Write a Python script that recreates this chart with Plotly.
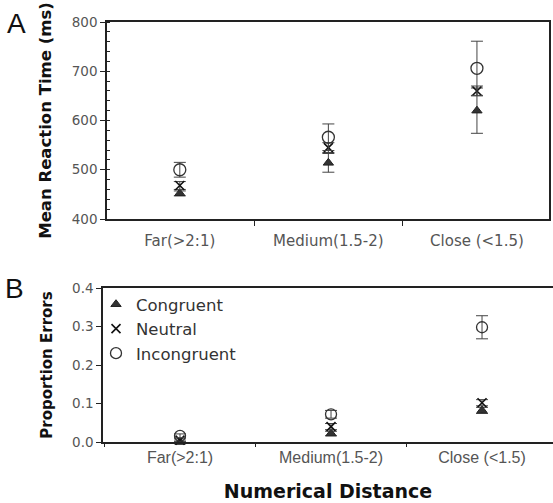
import plotly.graph_objects as go

categories = ["Far(>2:1)", "Medium(1.5-2)", "Close (<1.5)"]

# Panel A: mean reaction time (ms)
rt_congruent = [452, 514, 620]
rt_congruent_err = [5, 19, 46]
rt_neutral = [468, 545, 660]
rt_neutral_err = [8, 10, 10]
rt_incongruent = [500, 566, 706]
rt_incongruent_err = [15, 27, 55]

# Panel B: proportion errors
pe_congruent = [0.0, 0.022, 0.082]
pe_congruent_err = [0.002, 0.006, 0.008]
pe_neutral = [0.005, 0.040, 0.102]
pe_neutral_err = [0.003, 0.008, 0.008]
pe_incongruent = [0.016, 0.072, 0.298]
pe_incongruent_err = [0.005, 0.010, 0.030]

W, H = 553, 503
def px_x(a, b):
    return [a / W, b / W]
def px_y(top, bottom):
    return [1 - bottom / H, 1 - top / H]

ink = "#222222"
grey = "#555555"

marker_tri = dict(symbol="triangle-up", size=9, color="#333333", line=dict(color="#222", width=1))
marker_x = dict(symbol="x-thin-open", size=9, color="#111111", line=dict(color="#111", width=1.6))
marker_o = dict(symbol="circle-open", size=12, color="#333333", line=dict(color="#333", width=1.3))

def err(vals):
    return dict(type="data", array=vals, visible=True, color="#444444", thickness=1, width=6)

fig = go.Figure()

# Panel A
for name, ys, es, mk in [
    ("Congruent", rt_congruent, rt_congruent_err, marker_tri),
    ("Neutral", rt_neutral, rt_neutral_err, marker_x),
    ("Incongruent", rt_incongruent, rt_incongruent_err, marker_o),
]:
    fig.add_trace(go.Scatter(x=categories, y=ys, mode="markers", name=name,
                             marker=mk, error_y=err(es), xaxis="x", yaxis="y",
                             showlegend=False, cliponaxis=False))

# Panel B
mk_o_b = dict(marker_o, size=11)
for name, ys, es, mk in [
    ("Congruent", pe_congruent, pe_congruent_err, marker_tri),
    ("Neutral", pe_neutral, pe_neutral_err, marker_x),
    ("Incongruent", pe_incongruent, pe_incongruent_err, mk_o_b),
]:
    fig.add_trace(go.Scatter(x=categories, y=ys, mode="markers", name=name,
                             marker=mk, error_y=err(es), xaxis="x2", yaxis="y2",
                             showlegend=True, cliponaxis=False))

axis_common = dict(showline=True, linecolor=ink, linewidth=1.5, showgrid=False,
                   zeroline=False, ticks="outside", tickcolor=ink, ticklen=5,
                   automargin=False)

fig.update_layout(
    width=W, height=H,
    margin=dict(l=0, r=0, t=0, b=0, autoexpand=False),
    paper_bgcolor="white", plot_bgcolor="white",
    xaxis=dict(axis_common, domain=px_x(107, 549), anchor="y", type="category",
               categoryorder="array", categoryarray=categories,
               range=[-0.49, 2.485], tickson="boundaries", mirror=True,
               tickfont=dict(family="DejaVu Sans", size=15, color=grey),
               ticklabelstandoff=7),
    yaxis=dict(axis_common, domain=px_y(22, 219), anchor="x", range=[400, 800],
               dtick=100, mirror=True,
               tickfont=dict(family="DejaVu Sans", size=13.5, color=grey),
               minor=dict(ticks="inside", dtick=20, ticklen=3, tickcolor=ink),
               title=dict(text="Mean Reaction Time (ms)",
                          font=dict(family="DejaVu Sans", size=16.5, color="#111", weight="bold"),
                          standoff=16)),
    xaxis2=dict(axis_common, domain=px_x(103, 553), anchor="y2", type="category",
                categoryorder="array", categoryarray=categories,
                range=[-0.51, 2.47], tickson="boundaries", mirror=True, ticklen=3,
                tickfont=dict(family="Liberation Sans", size=16, color=grey),
                ticklabelstandoff=0,
                title=dict(text="Numerical Distance",
                           font=dict(family="DejaVu Sans", size=19, color="#111", weight="bold"),
                           standoff=20)),
    yaxis2=dict(axis_common, domain=px_y(288, 442), anchor="x2", range=[0, 0.4],
                dtick=0.1, tickformat=".1f", mirror=True,
                tickfont=dict(family="DejaVu Sans", size=13.5, color=grey),
                title=dict(text="Proportion Errors",
                           font=dict(family="DejaVu Sans", size=15, color="#111", weight="bold"),
                           standoff=16)),
    legend=dict(x=96 / W, y=1 - 287 / H, xanchor="left", yanchor="top",
                bgcolor="rgba(0,0,0,0)", tracegroupgap=0,
                font=dict(family="DejaVu Sans", size=16.5, color="#333"),
                itemwidth=30),
    annotations=[
        dict(text="A", x=5 / W, y=1 - 24 / H, xref="paper", yref="paper",
             xanchor="left", yanchor="middle", showarrow=False,
             font=dict(family="Liberation Sans", size=28, color="#111")),
        dict(text="B", x=3 / W, y=1 - 288 / H, xref="paper", yref="paper",
             xanchor="left", yanchor="middle", showarrow=False,
             font=dict(family="Liberation Sans", size=28, color="#111")),
    ],
)

fig.write_html("out.html")
